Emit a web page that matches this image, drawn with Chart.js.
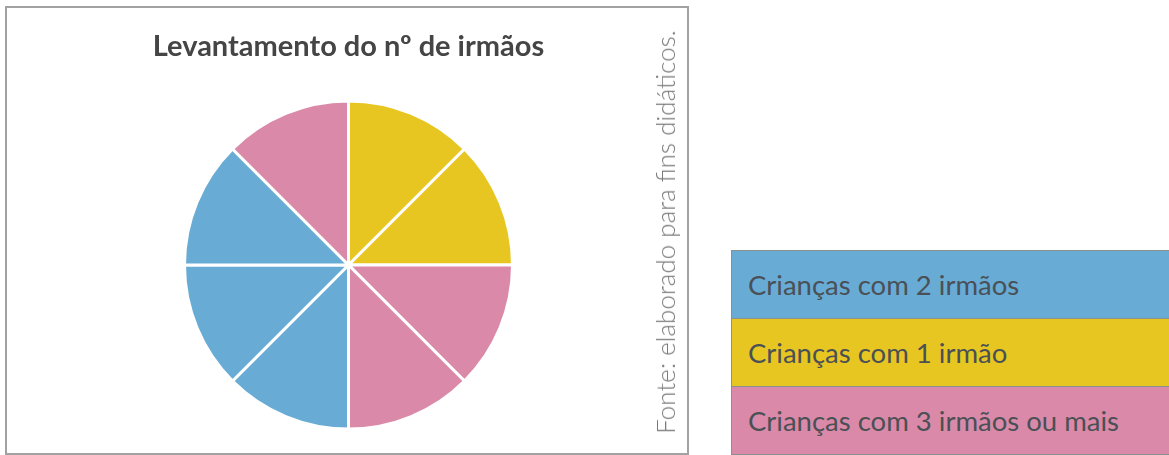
<!DOCTYPE html>
<html>
<head>
<meta charset="utf-8">
<script src="https://cdn.jsdelivr.net/npm/chart.js@4/dist/chart.umd.min.js"></script>
<style>
  html, body { margin: 0; padding: 0; background: #fff; width: 1169px; height: 455px; overflow: hidden; }
  #wrap { position: relative; width: 1169px; height: 455px; }
  #frame { position: absolute; left: 5px; top: 6px; width: 680px; height: 445px; border: 2px solid #a2a2a2; box-sizing: content-box; }
  canvas#c { position: absolute; left: 0; top: 0; }
  #fonte { position: absolute; left: 665px; top: 232px; transform: translate(-50%, -50%) rotate(-90deg); white-space: nowrap;
           font-family: Lato, sans-serif; font-weight: 300; font-size: 26px; color: #7a7a7a; }
  #legend { position: absolute; left: 731px; top: 250px; width: 460px; }
  .row { height: 67px; border: 1px solid #8a8f90; border-bottom: none; display: flex; align-items: center; box-sizing: content-box;
         font-family: Lato, sans-serif; font-size: 27.5px; color: #4a5055; padding-left: 16px; }
  .row:last-child { border-bottom: 1px solid #8a8f90; }
</style>
</head>
<body>
<div id="wrap">
  <div id="frame"></div>
  <canvas id="c" width="1169" height="455"></canvas>
  <div id="fonte"></div>
  <div id="legend"></div>
</div>
<script>
// ---- data ----
const titleText = "Levantamento do nº de irmãos";
const sourceText = "Fonte: elaborado para fins didáticos.";
const categories = ["Crianças com 2 irmãos", "Crianças com 1 irmão", "Crianças com 3 irmãos ou mais"];
const categoryColors = ["#68acd5", "#e8c622", "#da8aa8"];
// slices clockwise from 12 o'clock, each one child group of equal size
const sliceCategory = [1, 1, 2, 2, 0, 0, 0, 2];
const sliceValues = [1, 1, 1, 1, 1, 1, 1, 1];

// ---- legend / source ----
document.getElementById('fonte').textContent = sourceText;
const legend = document.getElementById('legend');
categories.forEach((name, i) => {
  const d = document.createElement('div');
  d.className = 'row';
  d.style.background = categoryColors[i];
  d.textContent = name;
  legend.appendChild(d);
});

// ---- chart ----
new Chart(document.getElementById('c'), {
  type: 'pie',
  data: {
    labels: sliceCategory.map(k => categories[k]),
    datasets: [{
      data: sliceValues,
      backgroundColor: sliceCategory.map(k => categoryColors[k]),
      borderColor: '#ffffff',
      borderWidth: 3
    }]
  },
  options: {
    responsive: false,
    animation: false,
    layout: { padding: { left: 100, right: 572, top: 0, bottom: 24.5 } },
    plugins: {
      legend: { display: false },
      tooltip: { enabled: false },
      title: {
        display: true,
        text: titleText,
        color: '#454545',
        font: { family: 'Lato', weight: 'bold', size: 29, lineHeight: 1.2 },
        padding: { top: 29.6, bottom: 35.1 }
      }
    }
  }
});
</script>
</body>
</html>
